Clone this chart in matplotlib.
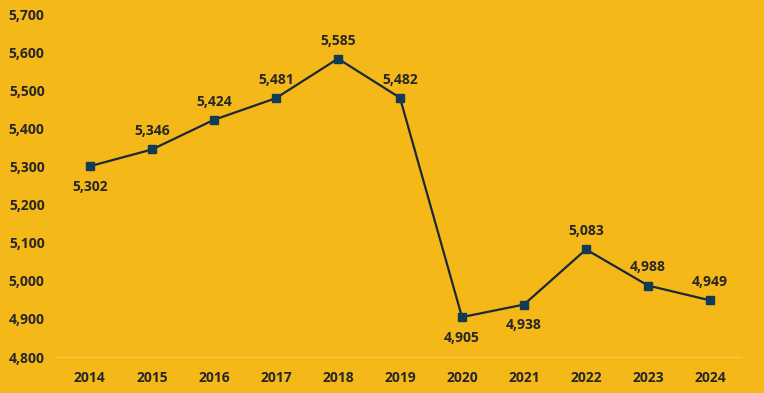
import matplotlib
matplotlib.use("Agg")
import matplotlib.pyplot as plt

years = ["2014", "2015", "2016", "2017", "2018", "2019", "2020", "2021", "2022", "2023", "2024"]
values = [5302, 5346, 5424, 5481, 5585, 5482, 4905, 4938, 5083, 4988, 4949]
label_below = [True, False, False, False, False, False, True, True, False, False, False]
yticks = [4800, 4900, 5000, 5100, 5200, 5300, 5400, 5500, 5600, 5700]

bg = "#F5B819"
txt = "#262626"
plt.rcParams['font.family'] = ['Open Sans', 'DejaVu Sans']

fig = plt.figure(figsize=(7.64, 3.93), dpi=100, facecolor=bg)
ax = fig.add_axes([0.073, 0.0916, 0.897, 0.8704], facecolor=bg)

x = list(range(len(years)))
ax.plot(x, values, color="#1b2838", linewidth=1.6, marker="s", markersize=6,
        markerfacecolor="#123b56", markeredgecolor="#123b56", zorder=3)

for xi, v, below in zip(x, values, label_below):
    if below:
        ax.annotate(f"{v:,}", (xi, v), xytext=(0, -10), textcoords="offset points",
                    ha="center", va="top", fontsize=10, fontweight="bold", color=txt)
    else:
        ax.annotate(f"{v:,}", (xi, v), xytext=(0, 8), textcoords="offset points",
                    ha="center", va="bottom", fontsize=10, fontweight="bold", color=txt)

ax.set_xlim(-0.55, 10.5)
ax.set_ylim(4800, 5700)
ax.set_xticks(x)
ax.set_xticklabels(years)
ax.set_yticks(yticks)
ax.set_yticklabels([f"{t:,}" for t in yticks])
for lab in ax.get_xticklabels() + ax.get_yticklabels():
    lab.set_fontweight("bold")
    lab.set_fontsize(10)
    lab.set_color(txt)
ax.tick_params(length=0)
ax.tick_params(axis='x', pad=10)
ax.tick_params(axis='y', pad=8)
for s in ["top", "right", "left"]:
    ax.spines[s].set_visible(False)
ax.spines["bottom"].set_color("#F7C64A")
ax.spines["bottom"].set_linewidth(1.0)

fig.savefig("out.png", dpi=100, facecolor=bg)
